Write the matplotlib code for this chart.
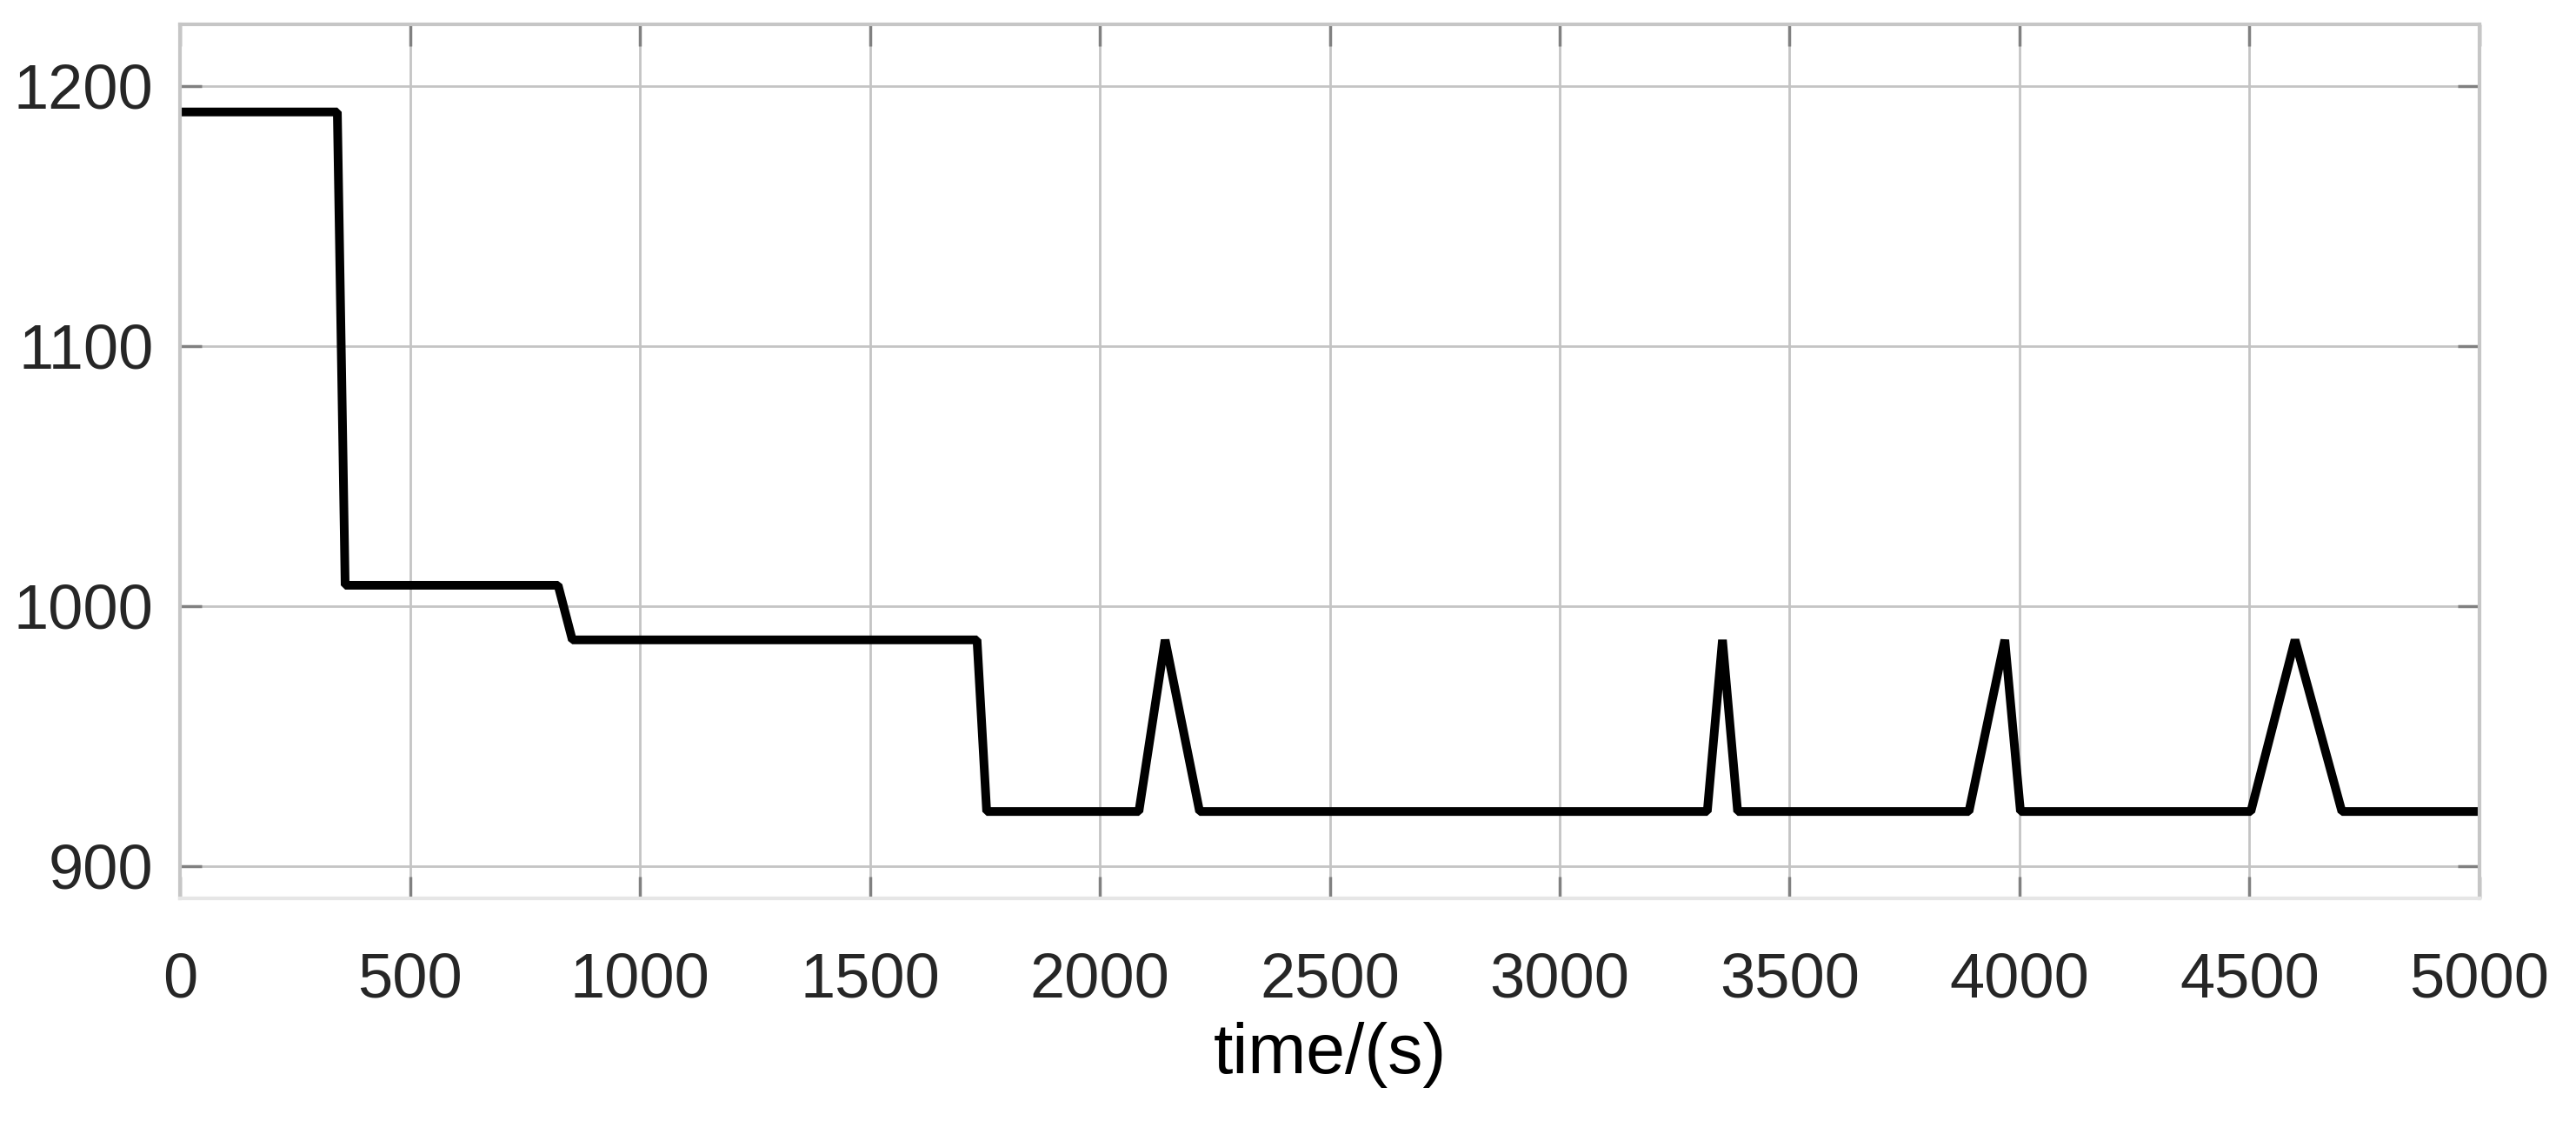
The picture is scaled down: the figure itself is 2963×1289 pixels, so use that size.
import matplotlib
matplotlib.use('Agg')
import matplotlib.pyplot as plt

# temperature profile
time_s = [0, 342, 359, 822, 853, 1733, 1754, 2085, 2142, 2217,
          3321, 3354, 3387, 3890, 3968, 4002, 4503, 4599, 4701, 5000]
temp = [1190, 1190, 1008, 1008, 987, 987, 921, 921, 987, 921,
        921, 987, 921, 921, 987, 921, 921, 987, 921, 921]

x_ticks = [0, 500, 1000, 1500, 2000, 2500, 3000, 3500, 4000, 4500, 5000]
y_ticks = [900, 1000, 1100, 1200]

plt.rcParams['font.family'] = ['Liberation Sans', 'DejaVu Sans']

fig = plt.figure(figsize=(29.63, 12.89), dpi=100)
ax = fig.add_axes([0.0699, 0.1986, 0.8926, 0.7797])

ax.plot(time_s, temp, color='black', linewidth=7.2, solid_joinstyle='bevel')

ax.set_xlim(0, 5000)
ax.set_ylim(887.6, 1223.7)
ax.set_xticks(x_ticks)
ax.set_yticks(y_ticks)

ax.grid(True, color='#c4c4c4', linewidth=2.0)
ax.set_axisbelow(True)

for side in ['top', 'left', 'right']:
    ax.spines[side].set_color('#c6c6c6')
    ax.spines[side].set_linewidth(3)
ax.spines['bottom'].set_color('#e6e6e6')
ax.spines['bottom'].set_linewidth(3)

ax.tick_params(axis='both', direction='in', length=18, width=2.5,
               color='#808080', labelsize=52, labelcolor='#262626',
               top=True, right=True)
ax.tick_params(axis='x', pad=44)
ax.tick_params(axis='y', pad=22)

ax.set_xlabel('time/(s)', fontsize=58, color='black', labelpad=10)

fig.savefig('out.png', dpi=100)
